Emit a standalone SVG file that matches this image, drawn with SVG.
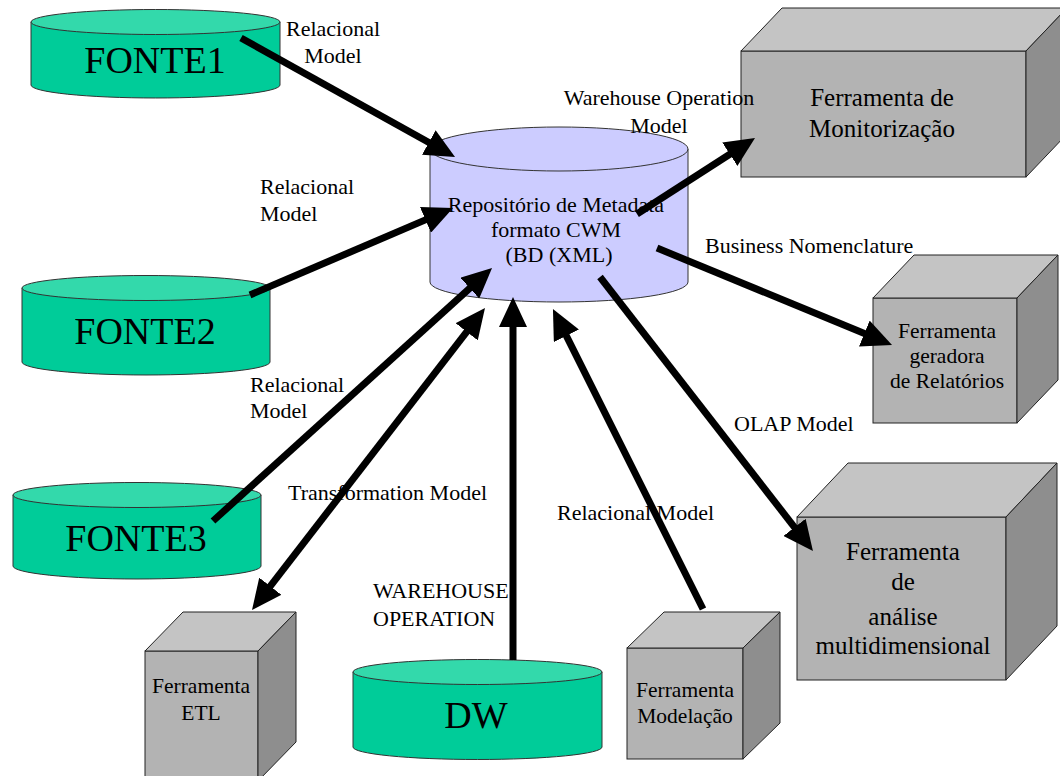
<svg xmlns="http://www.w3.org/2000/svg" width="1060" height="776" viewBox="0 0 1060 776">
  <defs>
    <style>
      .db-side { fill: #00cc99; stroke: #333; stroke-width: 1; }
      .db-top { fill: #33d9ab; stroke: #333; stroke-width: 1; }
      .repo-side { fill: #ccccff; stroke: #333; stroke-width: 1; }
      .repo-top { fill: #ccccff; stroke: #333; stroke-width: 1; }
      .cube-front { fill: #b3b3b3; stroke: #222; stroke-width: 1; }
      .cube-top { fill: #c4c4c4; stroke: #222; stroke-width: 1; }
      .cube-right { fill: #8e8e8e; stroke: #222; stroke-width: 1; }
      text { font-family: "Liberation Serif", "Times New Roman", serif; fill: #000; }
      .big { font-size: 38px; text-anchor: middle; }
      .repo-txt { font-size: 22px; text-anchor: middle; }
      .tool-l { font-size: 25px; text-anchor: middle; }
      .tool-s { font-size: 21.5px; text-anchor: middle; }
      .lbl { font-size: 22px; }
      .lbl-c { font-size: 22px; text-anchor: middle; }
      .conn { stroke: #000; stroke-width: 7; fill: none; }
    </style>
    <marker id="head" markerUnits="userSpaceOnUse" markerWidth="30" markerHeight="28" refX="12" refY="14" orient="auto-start-reverse" viewBox="0 0 30 28">
      <path d="M0,0 L30,14 L0,28 Z" fill="#000"/>
    </marker>
  </defs>

  <!-- data sources -->
  <g id="fonte1">
    <path class="db-side" d="M31,22 L31,85 A124.5,13 0 0 0 280,85 L280,22 Z"/>
    <ellipse class="db-top" cx="155.5" cy="22" rx="124.5" ry="12.5"/>
    <text class="big" x="155" y="73">FONTE1</text>
  </g>
  <g id="fonte2">
    <path class="db-side" d="M22,288 L22,362 A124,13 0 0 0 270,362 L270,288 Z"/>
    <ellipse class="db-top" cx="146" cy="288" rx="124" ry="12.5"/>
    <text class="big" x="145" y="344">FONTE2</text>
  </g>
  <g id="fonte3">
    <path class="db-side" d="M13,495 L13,566 A124,13 0 0 0 261,566 L261,495 Z"/>
    <ellipse class="db-top" cx="137" cy="495" rx="124" ry="12.5"/>
    <text class="big" x="136" y="551">FONTE3</text>
  </g>
  <g id="dw">
    <path class="db-side" d="M353,672 L353,747 A124.5,12.5 0 0 0 602,747 L602,672 Z"/>
    <ellipse class="db-top" cx="477.5" cy="672" rx="124.5" ry="12.5"/>
    <text class="big" x="476" y="728">DW</text>
  </g>

  <!-- metadata repository -->
  <g id="repositorio">
    <path class="repo-side" d="M430,149 L430,282 A129,20 0 0 0 688,282 L688,149 Z"/>
    <ellipse class="repo-top" cx="559" cy="149" rx="129" ry="22"/>
    <text class="repo-txt" x="556" y="212">Repositório de Metadata</text>
    <text class="repo-txt" x="556" y="237">formato CWM</text>
    <text class="repo-txt" x="559" y="262">(BD (XML)</text>
  </g>

  <!-- tools -->
  <g id="monitorizacao">
    <rect class="cube-front" x="741" y="51" width="285" height="126"/>
    <polygon class="cube-top" points="741,51 782,8 1067,8 1026,51"/>
    <polygon class="cube-right" points="1026,51 1067,8 1067,134 1026,177"/>
    <text class="tool-l" x="882" y="106">Ferramenta de</text>
    <text class="tool-l" x="882" y="137">Monitorização</text>
  </g>
  <g id="relatorios">
    <rect class="cube-front" x="873" y="298" width="144" height="125"/>
    <polygon class="cube-top" points="873,298 914,255 1058,255 1017,298"/>
    <polygon class="cube-right" points="1017,298 1058,255 1058,380 1017,423"/>
    <text class="tool-s" x="947" y="338">Ferramenta</text>
    <text class="tool-s" x="947" y="363">geradora</text>
    <text class="tool-s" x="947" y="388">de Relatórios</text>
  </g>
  <g id="multidimensional">
    <rect class="cube-front" x="797" y="517" width="209" height="163"/>
    <polygon class="cube-top" points="797,517 848,463 1057,463 1006,517"/>
    <polygon class="cube-right" points="1006,517 1057,463 1057,626 1006,680"/>
    <text class="tool-l" x="903" y="560">Ferramenta</text>
    <text class="tool-l" x="903" y="590">de</text>
    <text class="tool-l" x="903" y="625">análise</text>
    <text class="tool-l" x="903" y="654">multidimensional</text>
  </g>
  <g id="etl">
    <rect class="cube-front" x="145" y="651" width="113" height="130"/>
    <polygon class="cube-top" points="145,651 183,612 296,612 258,651"/>
    <polygon class="cube-right" points="258,651 296,612 296,742 258,781"/>
    <text class="tool-s" x="201" y="693">Ferramenta</text>
    <text class="tool-s" x="201" y="720">ETL</text>
  </g>
  <g id="modelacao">
    <rect class="cube-front" x="627" y="648" width="116" height="111"/>
    <polygon class="cube-top" points="627,648 664,612 780,612 743,648"/>
    <polygon class="cube-right" points="743,648 780,612 780,723 743,759"/>
    <text class="tool-s" x="685" y="697">Ferramenta</text>
    <text class="tool-s" x="685" y="723">Modelação</text>
  </g>

  <!-- connector labels -->
  <g id="labels">
    <text class="lbl-c" x="333" y="36">Relacional</text>
    <text class="lbl-c" x="333" y="63">Model</text>
    <text class="lbl" x="260" y="194">Relacional</text>
    <text class="lbl" x="260" y="221">Model</text>
    <text class="lbl" x="250" y="392">Relacional</text>
    <text class="lbl" x="250" y="418">Model</text>
    <text class="lbl" x="288" y="500">Transformation Model</text>
    <text class="lbl" x="557" y="520">Relacional Model</text>
    <text class="lbl" x="734" y="431">OLAP Model</text>
    <text class="lbl" x="705" y="253">Business Nomenclature</text>
    <text class="lbl-c" x="659" y="105">Warehouse Operation</text>
    <text class="lbl-c" x="659" y="133">Model</text>
    <text class="lbl" x="373" y="598">WAREHOUSE</text>
    <text class="lbl" x="373" y="626">OPERATION</text>
  </g>

  <!-- connectors -->
  <g id="connectors">
    <line class="conn" x1="241" y1="38" x2="439.3" y2="148.3" marker-end="url(#head)"/>
    <line class="conn" x1="250" y1="295" x2="436.5" y2="215.1" marker-end="url(#head)"/>
    <line class="conn" x1="213" y1="521" x2="478.7" y2="280.1" marker-end="url(#head)"/>
    <line class="conn" x1="263" y1="595.7" x2="474" y2="322.3" marker-start="url(#head)" marker-end="url(#head)"/>
    <line class="conn" x1="513" y1="660" x2="513" y2="315" marker-end="url(#head)"/>
    <line class="conn" x1="703" y1="609" x2="561" y2="325.1" marker-end="url(#head)"/>
    <line class="conn" x1="637" y1="214" x2="739.9" y2="147.7" marker-end="url(#head)"/>
    <line class="conn" x1="657" y1="248" x2="875.4" y2="338.1" marker-end="url(#head)"/>
    <line class="conn" x1="600" y1="277" x2="801.9" y2="536.8" marker-end="url(#head)"/>
  </g>
</svg>
